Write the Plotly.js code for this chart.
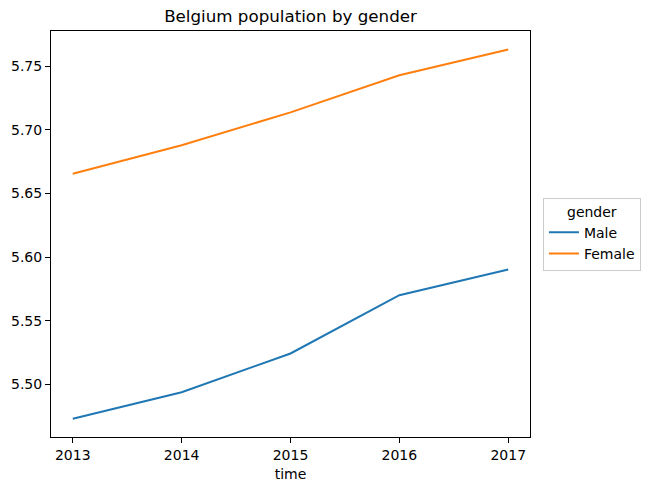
<!DOCTYPE html>
<html>
<head>
<meta charset="utf-8">
<script src="https://cdn.plot.ly/plotly-3.0.1.min.js"></script>
<style>
  html, body { margin: 0; padding: 0; background: #fff; }
  #chart { width: 653px; height: 491px; }
</style>
</head>
<body>
<div id="chart"></div>
<script>
// Belgium population (millions) by gender
const years = [2013, 2014, 2015, 2016, 2017];
const male = [5.4729, 5.4937, 5.5242, 5.5700, 5.5902];
const female = [5.6656, 5.6880, 5.7138, 5.7430, 5.7633];
const tickYears = ['2013', '2014', '2015', '2016', '2017'];

const FONT = 'DejaVu Sans, sans-serif';

const traces = [
  { x: years, y: male, name: 'Male', mode: 'lines', type: 'scatter',
    line: { color: '#1f77b4', width: 2 } },
  { x: years, y: female, name: 'Female', mode: 'lines', type: 'scatter',
    line: { color: '#ff7f0e', width: 2 } }
];

const axisCommon = {
  showgrid: false, zeroline: false, showline: true, mirror: true,
  linecolor: '#000', linewidth: 1, ticks: 'outside', ticklen: 5,
  tickcolor: '#000', tickwidth: 1, tickfont: { family: FONT, size: 14, color: '#000' }
};

const layout = {
  width: 653, height: 491,
  margin: { l: 51, r: 123, t: 31, b: 54 },
  paper_bgcolor: '#fff', plot_bgcolor: '#fff',
  font: { family: FONT, color: '#000' },
  title: { text: 'Belgium population by gender', font: { family: FONT, size: 16.7, color: '#000' },
           x: (51 + 530) / 2 / 653, xanchor: 'center', y: 1 - 16 / 491, yanchor: 'middle', yref: 'container' },
  xaxis: Object.assign({}, axisCommon, {
    range: [2012.8, 2017.2], tickvals: years, ticktext: tickYears,
    title: { text: 'time', font: { family: FONT, size: 14, color: '#000' }, standoff: 7 }
  }),
  yaxis: Object.assign({}, axisCommon, {
    range: [5.4585, 5.7778], tickvals: [5.50, 5.55, 5.60, 5.65, 5.70, 5.75], tickformat: '.2f'
  }),
  showlegend: true,
  legend: {
    x: 1.027, xanchor: 'left', y: 0.5, yanchor: 'middle',
    bordercolor: '#cccccc', borderwidth: 1, bgcolor: '#fff',
    font: { family: FONT, size: 14, color: '#000' },
    title: { text: 'gender', side: 'top center', font: { family: FONT, size: 14, color: '#000' } },
    tracegroupgap: 0
  }
};

Plotly.newPlot('chart', traces, layout, { displayModeBar: false, staticPlot: true });
</script>
</body>
</html>
